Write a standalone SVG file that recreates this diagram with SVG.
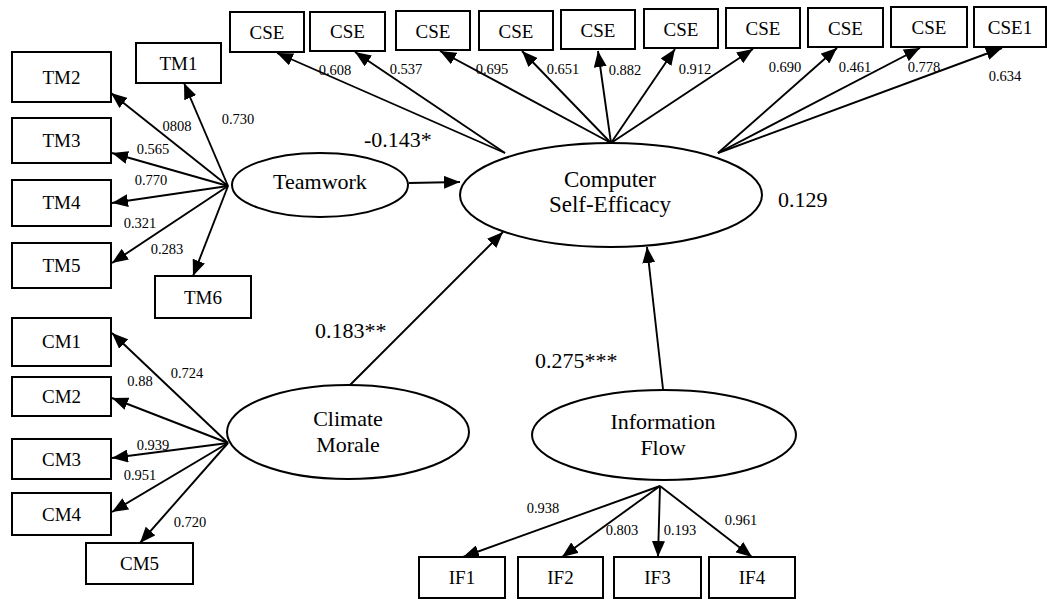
<svg xmlns="http://www.w3.org/2000/svg" width="1047" height="601" viewBox="0 0 1047 601" font-family="'Liberation Serif', 'DejaVu Serif', serif">
  <defs>
    <marker id="arrow" markerUnits="userSpaceOnUse" markerWidth="16" markerHeight="13" refX="16" refY="6.5" orient="auto">
      <path d="M0,0 L16,6.5 L0,13 z" fill="#000"/>
    </marker>
    <style>
      .box { fill: #fff; stroke: #000; stroke-width: 2; }
      .latent { fill: #fff; stroke: #000; stroke-width: 2; }
      .edge { stroke: #000; stroke-width: 1.9; fill: none; marker-end: url(#arrow); }
      text { font-family: 'Liberation Serif', 'DejaVu Serif', serif; fill: #000; }
      .item { font-size: 19px; text-anchor: middle; }
      .big { font-size: 22px; }
      .mid { text-anchor: middle; }
      .coef { font-size: 14.5px; text-anchor: middle; }
    </style>
  </defs>
  <rect width="1047" height="601" fill="#fff"/>

  <!-- structural and measurement paths -->
  <g id="connectors">
    <!-- Teamwork indicators -->
    <line class="edge" x1="228" y1="186" x2="184" y2="83"/>
    <line class="edge" x1="228" y1="186" x2="111" y2="93"/>
    <line class="edge" x1="228" y1="186" x2="112" y2="153"/>
    <line class="edge" x1="228" y1="186" x2="112" y2="203"/>
    <line class="edge" x1="228" y1="186" x2="112" y2="263"/>
    <line class="edge" x1="228" y1="186" x2="193" y2="276"/>
    <!-- Climate Morale indicators -->
    <line class="edge" x1="228" y1="443" x2="112" y2="333"/>
    <line class="edge" x1="228" y1="443" x2="112" y2="398"/>
    <line class="edge" x1="228" y1="443" x2="112" y2="458"/>
    <line class="edge" x1="228" y1="443" x2="112" y2="512"/>
    <line class="edge" x1="228" y1="443" x2="140" y2="543"/>
    <!-- Information Flow indicators -->
    <line class="edge" x1="660" y1="486" x2="463" y2="557"/>
    <line class="edge" x1="660" y1="486" x2="562" y2="557"/>
    <line class="edge" x1="660" y1="486" x2="658" y2="557"/>
    <line class="edge" x1="660" y1="486" x2="752" y2="557"/>
    <!-- Computer Self-Efficacy indicators -->
    <line class="edge" x1="505" y1="153" x2="277" y2="53"/>
    <line class="edge" x1="505" y1="153" x2="355" y2="52"/>
    <line class="edge" x1="611" y1="143" x2="440" y2="51"/>
    <line class="edge" x1="611" y1="143" x2="522" y2="51"/>
    <line class="edge" x1="611" y1="143" x2="598" y2="51"/>
    <line class="edge" x1="611" y1="143" x2="675" y2="49"/>
    <line class="edge" x1="611" y1="143" x2="753" y2="49"/>
    <line class="edge" x1="718" y1="153" x2="837" y2="48"/>
    <line class="edge" x1="718" y1="153" x2="920" y2="48"/>
    <line class="edge" x1="718" y1="153" x2="1002" y2="48"/>
    <!-- structural paths -->
    <line class="edge" x1="409" y1="183" x2="460" y2="182"/>
    <line class="edge" x1="350" y1="385" x2="503" y2="232"/>
    <line class="edge" x1="663" y1="389" x2="647" y2="247"/>
  </g>

  <!-- latent variables -->
  <g id="teamwork">
    <ellipse class="latent" cx="320" cy="185" rx="88" ry="32"/>
    <text class="big mid" x="320" y="189">Teamwork</text>
  </g>
  <g id="cse">
    <ellipse class="latent" cx="611" cy="195" rx="151" ry="52"/>
    <text class="mid" font-size="23" x="610" y="187">Computer</text>
    <text class="mid" font-size="23" x="610" y="212">Self-Efficacy</text>
  </g>
  <g id="climate">
    <ellipse class="latent" cx="348" cy="432" rx="121" ry="47"/>
    <text class="big mid" x="348" y="426">Climate</text>
    <text class="big mid" x="348" y="452">Morale</text>
  </g>
  <g id="infoflow">
    <ellipse class="latent" cx="664" cy="435" rx="132" ry="45"/>
    <text class="big mid" x="663" y="429">Information</text>
    <text class="big mid" x="663" y="455">Flow</text>
  </g>

  <!-- Teamwork items -->
  <g id="tm1"><rect class="box" x="136" y="43" width="85" height="40"/><text class="item" x="178.5" y="70">TM1</text></g>
  <g id="tm2"><rect class="box" x="12" y="52" width="99" height="50"/><text class="item" x="61.5" y="84">TM2</text></g>
  <g id="tm3"><rect class="box" x="12" y="118" width="99" height="45"/><text class="item" x="61.5" y="147">TM3</text></g>
  <g id="tm4"><rect class="box" x="12" y="180" width="99" height="46"/><text class="item" x="61.5" y="209">TM4</text></g>
  <g id="tm5"><rect class="box" x="12" y="243" width="99" height="45"/><text class="item" x="61.5" y="272">TM5</text></g>
  <g id="tm6"><rect class="box" x="155" y="276" width="96" height="42"/><text class="item" x="203" y="304">TM6</text></g>

  <!-- Climate Morale items -->
  <g id="cm1"><rect class="box" x="12" y="318" width="99" height="48"/><text class="item" x="61.5" y="348">CM1</text></g>
  <g id="cm2"><rect class="box" x="12" y="377" width="99" height="39"/><text class="item" x="61.5" y="403">CM2</text></g>
  <g id="cm3"><rect class="box" x="12" y="439" width="99" height="40"/><text class="item" x="61.5" y="466">CM3</text></g>
  <g id="cm4"><rect class="box" x="12" y="493" width="99" height="42"/><text class="item" x="61.5" y="521">CM4</text></g>
  <g id="cm5"><rect class="box" x="86" y="543" width="107" height="41"/><text class="item" x="139.5" y="570">CM5</text></g>

  <!-- Information Flow items -->
  <g id="if1"><rect class="box" x="419" y="557" width="86" height="41"/><text class="item" x="462" y="584">IF1</text></g>
  <g id="if2"><rect class="box" x="518" y="557" width="85" height="41"/><text class="item" x="560.5" y="584">IF2</text></g>
  <g id="if3"><rect class="box" x="614" y="557" width="87" height="41"/><text class="item" x="657.5" y="584">IF3</text></g>
  <g id="if4"><rect class="box" x="709" y="557" width="86" height="41"/><text class="item" x="752" y="584">IF4</text></g>

  <!-- Computer Self-Efficacy items -->
  <g id="cse1"><rect class="box" x="230" y="12" width="74" height="40"/><text class="item" x="267" y="38.5">CSE</text></g>
  <g id="cse2"><rect class="box" x="310" y="12" width="75" height="39"/><text class="item" x="347.5" y="38">CSE</text></g>
  <g id="cse3"><rect class="box" x="396" y="11" width="74" height="39"/><text class="item" x="433" y="37.5">CSE</text></g>
  <g id="cse4"><rect class="box" x="479" y="11" width="74" height="39"/><text class="item" x="516" y="37.5">CSE</text></g>
  <g id="cse5"><rect class="box" x="561" y="10" width="74" height="39"/><text class="item" x="598" y="36.5">CSE</text></g>
  <g id="cse6"><rect class="box" x="644" y="9" width="74" height="39"/><text class="item" x="681" y="35.5">CSE</text></g>
  <g id="cse7"><rect class="box" x="726" y="8" width="74" height="40"/><text class="item" x="763" y="35">CSE</text></g>
  <g id="cse8"><rect class="box" x="808" y="8" width="75" height="39"/><text class="item" x="845.5" y="34.5">CSE</text></g>
  <g id="cse9"><rect class="box" x="891" y="7" width="76" height="40"/><text class="item" x="929" y="34">CSE</text></g>
  <g id="cse10"><rect class="box" x="974" y="7" width="72" height="40"/><text class="item" x="1010" y="34">CSE1</text></g>

  <!-- loadings -->
  <g id="loadings">
    <text class="coef" x="177" y="131">0808</text>
    <text class="coef" x="238" y="124">0.730</text>
    <text class="coef" x="153" y="154">0.565</text>
    <text class="coef" x="151" y="185">0.770</text>
    <text class="coef" x="140" y="228">0.321</text>
    <text class="coef" x="167" y="254">0.283</text>
    <text class="coef" x="187" y="378">0.724</text>
    <text class="coef" x="140" y="386">0.88</text>
    <text class="coef" x="153" y="450">0.939</text>
    <text class="coef" x="140" y="480">0.951</text>
    <text class="coef" x="190" y="527">0.720</text>
    <text class="coef" x="543" y="513">0.938</text>
    <text class="coef" x="622" y="535">0.803</text>
    <text class="coef" x="680" y="535">0.193</text>
    <text class="coef" x="741" y="525">0.961</text>
    <text class="coef" x="335" y="75">0.608</text>
    <text class="coef" x="406" y="74">0.537</text>
    <text class="coef" x="492" y="74">0.695</text>
    <text class="coef" x="563" y="74">0.651</text>
    <text class="coef" x="625" y="75">0.882</text>
    <text class="coef" x="695" y="74">0.912</text>
    <text class="coef" x="785" y="72">0.690</text>
    <text class="coef" x="855" y="72">0.461</text>
    <text class="coef" x="924" y="72">0.778</text>
    <text class="coef" x="1005" y="81">0.634</text>
  </g>

  <!-- path coefficients and R² -->
  <g id="paths" class="big">
    <text x="364" y="147">-0.143*</text>
    <text x="315" y="338">0.183**</text>
    <text x="535" y="368">0.275***</text>
    <text x="778" y="207">0.129</text>
  </g>
</svg>
